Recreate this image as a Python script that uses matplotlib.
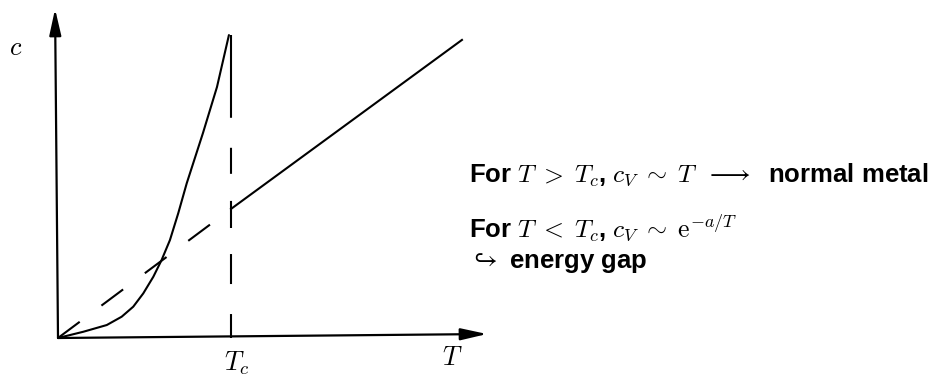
import numpy as np
import matplotlib.pyplot as plt

plt.rcParams['mathtext.fontset'] = 'cm'

# superconducting branch c(T) below Tc (Tc = 1)
T_sc = [0.0, 0.146, 0.282, 0.368, 0.435, 0.493, 0.551, 0.599, 0.647, 0.695, 0.744, 0.838, 0.919, 0.988]
c_sc = [0.0, 0.036, 0.075, 0.123, 0.181, 0.258, 0.354, 0.451, 0.566, 0.721, 0.894, 1.185, 1.451, 1.751]

# normal metal, linear in T
T_n = [0.0, 1.0, 2.335]
c_n = [0.0, 0.746, 1.723]

Tc = 1.0
c_top = 1.75

fig = plt.figure(figsize=(9.35, 3.74), dpi=100)
ax = fig.add_axes([0, 0, 1, 1])
ax.set_xlim(-58 / 173, (935 - 58) / 173)
ax.set_ylim((338 - 374) / 173, 338 / 173)
ax.axis('off')

lw = 1.5
ax.plot(T_sc, c_sc, color='black', lw=lw, solid_capstyle='round')
ax.plot(T_n[1:], c_n[1:], color='black', lw=lw)
ax.plot(T_n[:2], c_n[:2], color='black', lw=lw, ls=(0, (13, 13)))
# vertical line at Tc, dashes counted from the axis upward
ax.plot([Tc, Tc], [0, c_top], color='black', lw=lw,
        ls=(0, (11.5, 14.4, 14.4, 12.5, 13, 13, 12.5, 14.4, 40, 1)))

# axes with arrows
arrow = dict(arrowstyle='-|>,head_length=0.8,head_width=0.18', mutation_scale=20,
             lw=1.6, color='black', shrinkA=0, shrinkB=0)
ax.annotate('', xy=(2.48, 0.023), xytext=(0, 0), arrowprops=arrow)
ax.annotate('', xy=(-0.017, 1.902), xytext=(0, 0), arrowprops=arrow)

ax.text(-0.243, 1.676, '$c$', fontsize=19, ha='center', va='center')
ax.text(1.035, -0.064, '$T_c$', fontsize=19, ha='center', va='top')
ax.text(2.277, -0.04, '$T$', fontsize=19, ha='center', va='top')

txt = dict(fontsize=18.5, fontweight='bold', family='Liberation Sans', ha='left', va='baseline')
ax.text(2.376, 0.902, r'For $T\;>\;T_c$, $c_V\;\sim\;T\;\;\longrightarrow\;$ normal metal', **txt)
ax.text(2.376, 0.584, r'For $T\;<\;T_c$, $c_V\;\sim\;\mathrm{e}^{-a/T}$', **txt)
ax.text(2.376, 0.405, r'$\hookrightarrow$ energy gap', **txt)

fig.savefig('out.png', dpi=100)
